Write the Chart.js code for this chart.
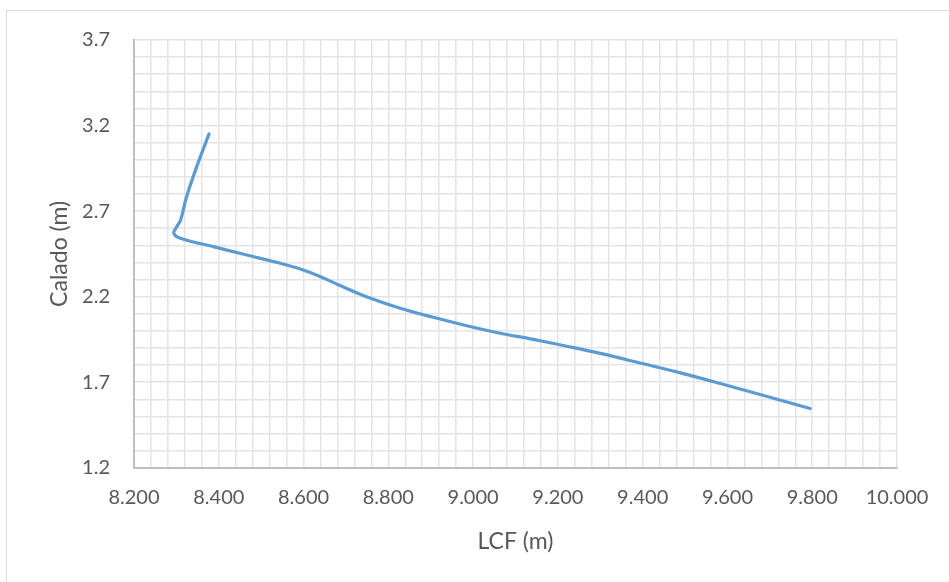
<!DOCTYPE html>
<html>
<head>
<meta charset="utf-8">
<script src="https://cdn.jsdelivr.net/npm/chart.js@4.4.1/dist/chart.umd.min.js"></script>
<style>
  html, body { margin: 0; padding: 0; background: #fff; overflow: hidden; }
  #frame { position: absolute; left: 6px; top: 10px; width: 980px; height: 620px; border: 1px solid #d9d9d9; }
  #chart { position: absolute; left: 0; top: 0; }
</style>
</head>
<body>
<div id="frame"></div>
<canvas id="chart" width="949" height="582"></canvas>
<script>
// LCF (m) vs calado (m)
const lcf = [8.377, 8.348, 8.324, 8.310, 8.301, 8.294, 8.309, 8.387, 8.466, 8.545,
  8.599, 8.639, 8.686, 8.750, 8.828, 8.906, 8.985, 9.064, 9.142, 9.221,
  9.300, 9.394, 9.489, 9.583, 9.677, 9.795];
const calado = [3.151, 2.960, 2.784, 2.648, 2.609, 2.570, 2.541, 2.492, 2.443, 2.395,
  2.356, 2.318, 2.265, 2.198, 2.132, 2.079, 2.030, 1.986, 1.950, 1.910,
  1.868, 1.812, 1.754, 1.692, 1.628, 1.546];

const xTickLabels = ["8.200", "8.400", "8.600", "8.800", "9.000", "9.200", "9.400", "9.600", "9.800", "10.000"];
const yTickLabels = ["1.2", "1.7", "2.2", "2.7", "3.2", "3.7"];

const TEXT = "#595959";
const GRID = "#e4e4e4";
const AXIS = "#bfbfbf";

function labelFor(list, v) {
  const hit = list.find((t) => Math.abs(parseFloat(t) - v) < 1e-6);
  return hit || "";
}

const points = lcf.map((x, i) => ({ x, y: calado[i] }));

new Chart(document.getElementById("chart"), {
  type: "line",
  data: {
    datasets: [
      {
        data: points,
        borderColor: "#5b9bd5",
        borderWidth: 3.2,
        borderCapStyle: "round",
        borderJoinStyle: "round",
        pointRadius: 0,
        tension: 0.35,
        fill: false,
      },
    ],
  },
  options: {
    responsive: false,
    animation: false,
    layout: { padding: { left: 40, right: 52, top: 40, bottom: 18 } },
    plugins: { legend: { display: false }, tooltip: { enabled: false } },
    scales: {
      x: {
        type: "linear",
        min: 8.2,
        max: 10.0,
        afterFit: (s) => { s.height = 96.3; },
        grid: { color: GRID, lineWidth: 1.5, drawTicks: false },
        border: { display: true, color: AXIS, width: 2 },
        ticks: {
          stepSize: 0.04,
          autoSkip: false,
          maxRotation: 0,
          padding: 18,
          color: TEXT,
          font: { family: "Lato", size: 20 },
          callback: (v) => labelFor(xTickLabels, v),
        },
        title: {
          display: true,
          text: "LCF (m)",
          color: TEXT,
          font: { family: "Lato", size: 23 },
          padding: { top: 0, bottom: 9 },
        },
      },
      y: {
        min: 1.2,
        max: 3.7,
        afterFit: (s) => { s.width = 94; },
        grid: { color: GRID, lineWidth: 1.5, drawTicks: false },
        border: { display: true, color: AXIS, width: 2 },
        ticks: {
          stepSize: 0.1,
          autoSkip: false,
          padding: 24,
          color: TEXT,
          font: { family: "Lato", size: 20 },
          callback: (v) => labelFor(yTickLabels, v),
        },
        title: {
          display: true,
          text: "Calado (m)",
          color: TEXT,
          font: { family: "Lato", size: 23 },
          padding: { top: 6, bottom: 0 },
        },
      },
    },
  },
});
</script>
</body>
</html>
